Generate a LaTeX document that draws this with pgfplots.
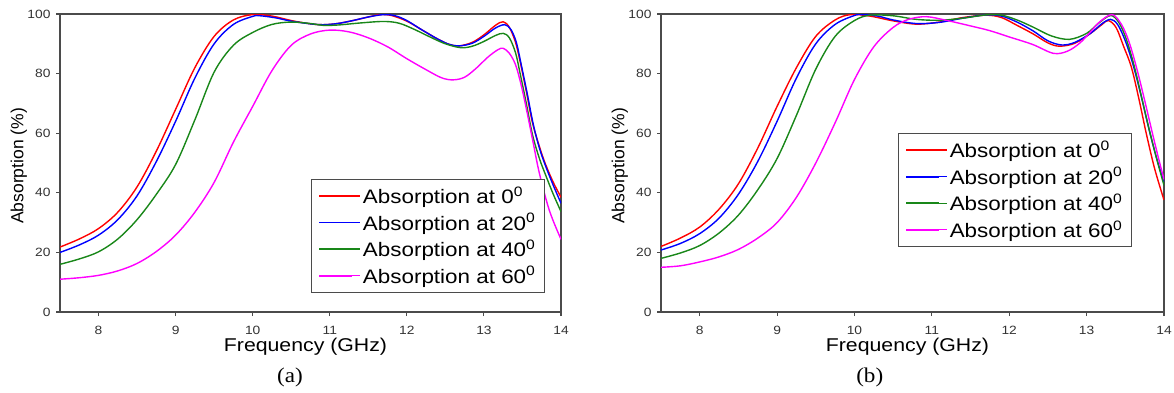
\documentclass[border=0pt]{standalone}
\usepackage{fontspec}
\setmainfont[FakeStretch=1.15]{Liberation Sans}
\newfontfamily\plainsans{Liberation Sans}
\newfontfamily\capfont[FakeStretch=1.1]{Liberation Serif}
\usepackage{pgfplots}
\pgfplotsset{compat=1.18}
\definecolor{cred}{RGB}{255,0,0}
\definecolor{cblue}{RGB}{0,0,255}
\definecolor{cgreen}{RGB}{25,135,25}
\definecolor{cmag}{RGB}{255,0,255}
\definecolor{axgray}{RGB}{75,75,75}
\pgfplotsset{
  myaxis/.style={
    scale only axis, width=501pt, height=298pt,
    xmin=7.5, xmax=14, ymin=0, ymax=100,
    clip mode=individual,
    xtick={8,9,10,11,12,13,14}, ytick={0,20,40,60,80,100},
    tick align=outside, tick pos=left, major tick length=4pt,
    axis line style={axgray, line width=1.1pt},
    every tick/.style={axgray, line width=1.1pt},
    /pgf/number format/assume math mode=true,
    ticklabel style={font=\fontsize{12}{14}\selectfont, text=black!80},
    xticklabel style={yshift=-7pt},
    yticklabel style={xshift=-2pt},
    xlabel={Frequency (GHz)},
    xlabel style={font=\fontsize{18.5}{22}\selectfont, at={(axis description cs:0.49,0)}, anchor=center, yshift=-35pt},
    ylabel={Absorption (\%)},
    ylabel style={font=\plainsans\fontsize{17.5}{20}\selectfont, at={(axis description cs:-0.082,0.49)}, anchor=center},
    legend image code/.code={\path (0pt,0pt) -- (41pt,0pt); \draw[#1, line width=1.8pt] (0pt,0pt) -- (33pt,0pt);},
    every axis plot/.append style={line width=1.4pt, smooth, tension=0.55, mark=none},
  },
  mylegend/.style={legend style={font=\fontsize{19.5}{23}\selectfont, draw=axgray, line width=1pt, fill=white,
    inner xsep=7pt, inner ysep=5.5pt, row sep=4pt, cells={anchor=west}}},
}
\begin{document}
\begin{tikzpicture}
\useasboundingbox (0pt,0pt) rectangle (1174pt,392pt);
% ---------------- (a) ----------------
\begin{axis}[myaxis, mylegend, at={(60pt,80pt)}, anchor=south west,
  legend style={at={(0.968,0.064)}, anchor=south east}]
\addplot[cred] coordinates {(7.5,21.8) (7.75,24.5) (8.0,28) (8.25,33.5) (8.5,42) (8.75,54) (9.0,68) (9.25,82) (9.5,92.5) (9.75,98) (10.0,99.8) (10.25,99.3) (10.5,97.8) (10.75,96.7) (10.91,96.4) (11.1,96.8) (11.3,97.8) (11.5,99) (11.65,99.8) (11.8,99.5) (12.0,97.6) (12.2,94.6) (12.4,91.6) (12.55,89.8) (12.68,89.3) (12.85,90.5) (13.0,93) (13.15,96.2) (13.25,97.4) (13.33,95.5) (13.41,90.5) (13.47,84) (13.55,74) (13.63,63.5) (13.72,55.5) (13.8,49.5) (13.9,43.5) (14,38.5)};
\addlegendentry{Absorption at 0\textsuperscript{0}}
\addplot[cblue] coordinates {(7.5,20) (7.75,22.5) (8.0,25.8) (8.25,31) (8.5,39) (8.75,50.5) (9.0,64) (9.25,78.5) (9.5,90) (9.75,96.5) (10.0,99.2) (10.1,99.4) (10.3,98.7) (10.5,97.6) (10.75,96.7) (10.91,96.4) (11.1,96.8) (11.3,97.8) (11.5,99) (11.7,99.8) (11.85,99.4) (12.0,97.8) (12.2,94.6) (12.4,91.6) (12.55,89.8) (12.68,89.3) (12.85,90.2) (13.0,92.5) (13.15,95.3) (13.27,96.4) (13.35,94.8) (13.42,90.5) (13.48,83.5) (13.56,73.5) (13.64,63) (13.72,55) (13.8,49) (13.9,42.5) (14,36.5)};
\addlegendentry{Absorption at 20\textsuperscript{0}}
\addplot[cgreen] coordinates {(7.5,16) (7.75,17.8) (8.0,20.2) (8.25,24.5) (8.5,31) (8.75,39.5) (9.0,49.5) (9.25,64.5) (9.5,80.5) (9.75,89.5) (10.0,93.8) (10.25,96.5) (10.5,97.3) (10.75,96.8) (10.91,96.2) (11.1,96.3) (11.4,97) (11.7,97.5) (11.9,96.9) (12.1,94.8) (12.3,92.3) (12.5,90) (12.7,88.7) (12.85,89.2) (13.0,90.8) (13.15,92.8) (13.25,93.5) (13.33,92) (13.41,87) (13.47,80) (13.55,70) (13.63,59.5) (13.72,51.5) (13.8,46) (13.9,39.5) (14,33.7)};
\addlegendentry{Absorption at 40\textsuperscript{0}}
\addplot[cmag] coordinates {(7.5,11) (7.75,11.5) (8.0,12.3) (8.25,13.8) (8.5,16.3) (8.75,20.3) (9.0,25.8) (9.25,33.5) (9.5,43.5) (9.75,57) (10.0,69) (10.25,81) (10.5,89.5) (10.75,93.3) (11.0,94.6) (11.25,94) (11.5,92) (11.75,89) (12.0,85) (12.25,81.3) (12.45,78.6) (12.6,77.9) (12.75,78.8) (12.9,81.8) (13.05,85.5) (13.18,88) (13.25,88.5) (13.33,86.8) (13.41,83) (13.48,76.5) (13.54,69.5) (13.63,58) (13.72,46.5) (13.85,34) (14,24.4)};
\addlegendentry{Absorption at 60\textsuperscript{0}}
\node[font=\capfont\fontsize{21}{24}\selectfont] at (rel axis cs:0.459,0) [yshift=-65pt] {(a)};
\end{axis}
% ---------------- (b) ----------------
\begin{axis}[myaxis, mylegend, at={(661pt,80pt)}, anchor=south west, width=503pt,
  legend style={at={(0.936,0.218)}, anchor=south east}]
\addplot[cred] coordinates {(7.5,22) (7.75,24.8) (8.0,28.5) (8.25,34.5) (8.5,43) (8.75,55) (9.0,69) (9.25,82) (9.5,92.5) (9.75,98) (9.95,99.8) (10.2,99.3) (10.5,97.7) (10.8,96.6) (11.1,97.3) (11.4,98.8) (11.7,99.6) (11.9,98.8) (12.1,96.2) (12.31,93.3) (12.5,90.3) (12.65,89.2) (12.85,90.2) (13.05,93.5) (13.2,96.5) (13.28,97.8) (13.38,95.5) (13.48,89) (13.58,82) (13.68,71) (13.77,60) (13.88,48) (14,37.6)};
\addlegendentry{Absorption at 0\textsuperscript{0}}
\addplot[cblue] coordinates {(7.5,20.8) (7.75,23) (8.0,26.3) (8.25,31.5) (8.5,39.5) (8.75,50.5) (9.0,64) (9.25,78.5) (9.5,90) (9.75,96.5) (10.0,99.5) (10.1,99.8) (10.3,99.3) (10.5,98) (10.8,96.8) (11.1,97.2) (11.4,98.6) (11.7,99.7) (11.9,99.3) (12.1,97.3) (12.31,94.3) (12.5,91) (12.68,89.6) (12.85,90.5) (13.05,93.5) (13.2,96.8) (13.31,98.2) (13.4,96.5) (13.5,91) (13.6,83) (13.7,73) (13.8,62) (13.9,52) (14,43.5)};
\addlegendentry{Absorption at 20\textsuperscript{0}}
\addplot[cgreen] coordinates {(7.5,18) (7.75,19.8) (8.0,22.3) (8.25,26.5) (8.5,32.5) (8.75,41) (9.0,51.5) (9.25,66) (9.5,81.5) (9.75,92.5) (10.0,97.8) (10.2,99.6) (10.5,99.4) (10.8,98.2) (11.1,97.9) (11.4,98.6) (11.7,99.7) (11.9,99.6) (12.1,98) (12.3,95.7) (12.55,92.6) (12.78,91.5) (13.0,93.5) (13.15,96.8) (13.31,99.5) (13.42,97) (13.52,91) (13.62,82) (13.72,71) (13.82,60) (13.92,50) (14,42.5)};
\addlegendentry{Absorption at 40\textsuperscript{0}}
\addplot[cmag] coordinates {(7.5,15) (7.75,15.5) (8.0,16.8) (8.25,18.5) (8.5,21) (8.75,24.8) (9.0,30) (9.25,38.5) (9.5,50) (9.75,63.5) (10.0,78) (10.25,89) (10.5,95.5) (10.7,98.2) (10.93,99.1) (11.2,97.8) (11.5,96) (11.75,94.4) (12.0,92.3) (12.3,89.8) (12.57,86.8) (12.75,87.5) (12.91,90.2) (13.05,94) (13.17,97.4) (13.33,99.8) (13.45,96.5) (13.55,90.5) (13.65,81.5) (13.75,71) (13.85,60) (13.93,51.5) (14,44.5)};
\addlegendentry{Absorption at 60\textsuperscript{0}}
\node[font=\capfont\fontsize{21}{24}\selectfont] at (rel axis cs:0.415,0) [yshift=-65pt] {(b)};
\end{axis}
\end{tikzpicture}
\end{document}
